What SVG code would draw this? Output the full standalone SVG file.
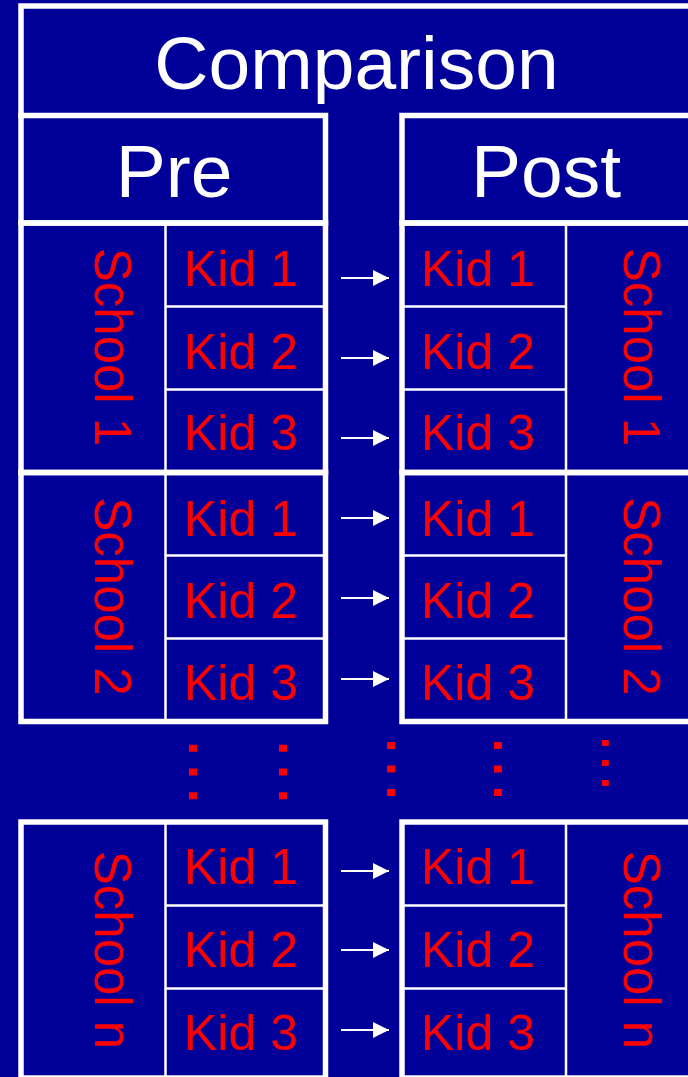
<svg xmlns="http://www.w3.org/2000/svg" width="688" height="1077" viewBox="0 0 688 1077">
<defs>
<style>
.frame{fill:none;stroke:#FFFFFF;stroke-width:5.5}
.cell{fill:none;stroke:#FFFFFF;stroke-width:2.5}
.hdr{font-family:"Liberation Sans",Arial,sans-serif;font-size:75px;fill:#FFFFFF}
.kid{font-family:"Liberation Sans",Arial,sans-serif;font-size:50px;fill:#FF0000}
.school{font-family:"Liberation Sans",Arial,sans-serif;font-size:51px;fill:#FF0000;text-anchor:middle}
.dots{font-family:"Liberation Sans",Arial,sans-serif;fill:#FF0000;text-anchor:middle}
.arrow{stroke:#FFFFFF;stroke-width:2;fill:none;marker-end:url(#ah)}
</style>
<marker id="ah" markerUnits="userSpaceOnUse" markerWidth="16" markerHeight="16" refX="16" refY="8" orient="auto">
<path d="M0,0 L16,8 L0,16 Z" fill="#FFFFFF"/>
</marker>
</defs>
<rect x="0" y="0" width="688" height="1077" fill="#000099"/>

<g id="comparison">
<path class="frame" d="M21,118 V6 H700" stroke-width="6"/>
<text class="hdr" x="356.5" y="88.5" text-anchor="middle">Comparison</text>
</g>

<g id="pre-header">
<rect class="frame" x="21" y="115.5" width="304.5" height="107.5"/>
<text class="hdr" x="174" y="197" text-anchor="middle">Pre</text>
</g>
<g id="post-header">
<rect class="frame" x="402" y="115.5" width="340" height="107.5"/>
<text class="hdr" x="471" y="197">Post</text>
</g>

<g id="pre-school1">
<rect class="frame" x="21" y="223" width="304.5" height="249.5"/>
<path class="cell" d="M165.5,223 V472.5 M165.5,306.5 H325.5 M165.5,389.5 H325.5"/>
<text class="school" transform="translate(95,347) rotate(90)">School 1</text>
<text class="kid" x="184" y="286">Kid 1</text>
<text class="kid" x="184" y="368.5">Kid 2</text>
<text class="kid" x="184" y="450">Kid 3</text>
</g>
<g id="pre-school2">
<rect class="frame" x="21" y="472.5" width="304.5" height="249"/>
<path class="cell" d="M165.5,472.5 V721.5 M165.5,555.5 H325.5 M165.5,638.5 H325.5"/>
<text class="school" transform="translate(95,596.5) rotate(90)">School 2</text>
<text class="kid" x="184" y="535.5">Kid 1</text>
<text class="kid" x="184" y="617.5">Kid 2</text>
<text class="kid" x="184" y="699.5">Kid 3</text>
</g>
<g id="pre-schooln">
<rect class="frame" x="21" y="822" width="304.5" height="256"/>
<path class="cell" d="M165.5,822 V1078 M165.5,905.5 H325.5 M165.5,988.5 H325.5"/>
<text class="school" transform="translate(95,950) rotate(90)">School n</text>
<text class="kid" x="184" y="884">Kid 1</text>
<text class="kid" x="184" y="966.5">Kid 2</text>
<text class="kid" x="184" y="1050">Kid 3</text>
</g>

<g id="post-school1">
<rect class="frame" x="402" y="223" width="340" height="249.5"/>
<path class="cell" d="M566,223 V472.5 M402,306.5 H566 M402,389.5 H566"/>
<text class="school" transform="translate(623.5,347) rotate(90)">School 1</text>
<text class="kid" x="421" y="286">Kid 1</text>
<text class="kid" x="421" y="368.5">Kid 2</text>
<text class="kid" x="421" y="450">Kid 3</text>
</g>
<g id="post-school2">
<rect class="frame" x="402" y="472.5" width="340" height="249"/>
<path class="cell" d="M566,472.5 V721.5 M402,555.5 H566 M402,638.5 H566"/>
<text class="school" transform="translate(623.5,596.5) rotate(90)">School 2</text>
<text class="kid" x="421" y="535.5">Kid 1</text>
<text class="kid" x="421" y="617.5">Kid 2</text>
<text class="kid" x="421" y="699.5">Kid 3</text>
</g>
<g id="post-schooln">
<rect class="frame" x="402" y="822" width="340" height="256"/>
<path class="cell" d="M566,822 V1078 M402,905.5 H566 M402,988.5 H566"/>
<text class="school" transform="translate(623.5,950) rotate(90)">School n</text>
<text class="kid" x="421" y="884">Kid 1</text>
<text class="kid" x="421" y="966.5">Kid 2</text>
<text class="kid" x="421" y="1050">Kid 3</text>
</g>

<g id="ellipses">
<text class="dots" font-size="75" transform="translate(188.5,772) rotate(90)">…</text>
<text class="dots" font-size="75" transform="translate(278.8,772) rotate(90)">…</text>
<text class="dots" font-size="74" transform="translate(386.6,769) rotate(90)">…</text>
<text class="dots" font-size="74" transform="translate(493.6,769) rotate(90)">…</text>
<text class="dots" font-size="63" transform="translate(602,763) rotate(90)">…</text>
</g>

<g id="connectors">
<line class="arrow" x1="341" y1="278" x2="389" y2="278"/>
<line class="arrow" x1="341" y1="358" x2="389" y2="358"/>
<line class="arrow" x1="341" y1="438" x2="389" y2="438"/>
<line class="arrow" x1="341" y1="518" x2="389" y2="518"/>
<line class="arrow" x1="341" y1="598" x2="389" y2="598"/>
<line class="arrow" x1="341" y1="679" x2="389" y2="679"/>
<line class="arrow" x1="341" y1="871" x2="389" y2="871"/>
<line class="arrow" x1="341" y1="950" x2="389" y2="950"/>
<line class="arrow" x1="341" y1="1030" x2="389" y2="1030"/>
</g>
</svg>
